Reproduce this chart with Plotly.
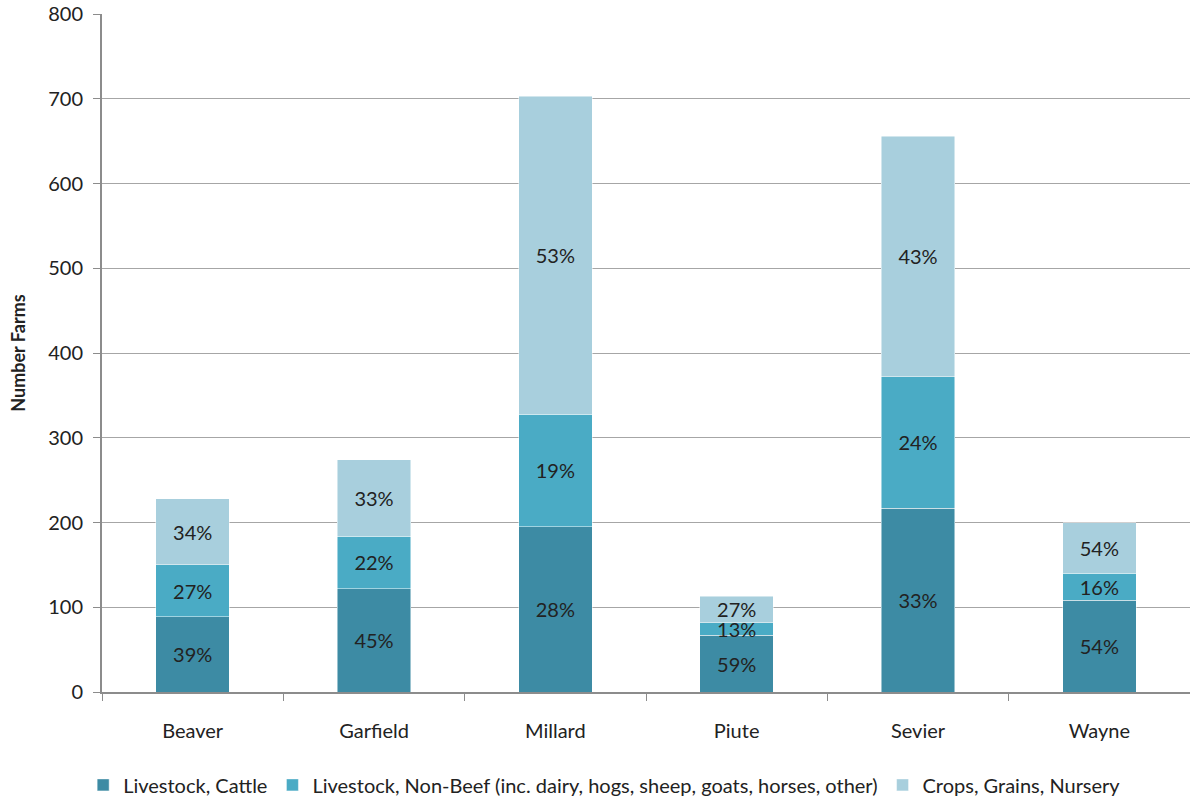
import plotly.graph_objects as go

counties = ["Beaver", "Garfield", "Millard", "Piute", "Sevier", "Wayne"]

cattle = [89, 122, 195, 67, 217, 108]
non_beef = [61, 62, 133, 15, 155, 32]
crops = [78, 90, 375, 31, 284, 60]

cattle_pct = ["39%", "45%", "28%", "59%", "33%", "54%"]
non_beef_pct = ["27%", "22%", "19%", "13%", "24%", "16%"]
crops_pct = ["34%", "33%", "53%", "27%", "43%", "54%"]

y_ticks = [0, 100, 200, 300, 400, 500, 600, 700, 800]

series = [
    ("Livestock, Cattle", cattle, cattle_pct, "#3D8BA4"),
    ("Livestock, Non-Beef (inc. dairy, hogs, sheep, goats, horses, other)", non_beef, non_beef_pct, "#4AABC5"),
    ("Crops, Grains, Nursery", crops, crops_pct, "#A8CFDD"),
]

font_family = "Lato, 'Open Sans', 'Liberation Sans', sans-serif"
txt = "#222222"

fig = go.Figure()
for name, vals, labels, color in series:
    fig.add_trace(go.Bar(
        x=counties,
        y=vals,
        name=name,
        text=labels,
        textposition="inside",
        insidetextanchor="middle",
        textangle=0,
        textfont=dict(size=20, color=txt, family=font_family),
        marker=dict(color=color, line=dict(color="rgba(255,255,255,0.6)", width=0.8)),
        hoverinfo="x+y+name",
    ))

fig.update_layout(
    barmode="stack",
    bargap=0.595,
    width=1190,
    height=800,
    margin=dict(l=102, r=0, t=14, b=108, autoexpand=False),
    paper_bgcolor="white",
    plot_bgcolor="white",
    font=dict(family=font_family, size=20, color=txt),
    uniformtext=dict(minsize=20, mode="show"),
    legend=dict(
        orientation="h",
        x=0.462,
        xanchor="center",
        y=-0.137,
        yanchor="middle",
        font=dict(size=20, color=txt),
        itemwidth=30,
        traceorder="normal",
    ),
    showlegend=True,
)

fig.update_xaxes(
    type="category",
    tickson="boundaries",
    ticks="outside",
    ticklen=7,
    tickcolor="#8C8C8C",
    tickwidth=1.3,
    showline=True,
    linecolor="#8C8C8C",
    linewidth=2,
    showgrid=False,
    ticklabelstandoff=20,
    tickfont=dict(size=20, color=txt),
)

fig.update_yaxes(
    range=[0, 800],
    tickvals=y_ticks,
    ticks="outside",
    ticklen=7,
    tickcolor="#8C8C8C",
    tickwidth=1.3,
    showline=True,
    linecolor="#8C8C8C",
    linewidth=2,
    showgrid=True,
    gridcolor="#A6A6A6",
    gridwidth=1.3,
    zeroline=False,
    ticklabelstandoff=6,
    tickfont=dict(size=20, color=txt),
    title=dict(text="<b>Number Farms</b>", font=dict(size=18, color=txt), standoff=18),
)

fig.write_html("out.html")
